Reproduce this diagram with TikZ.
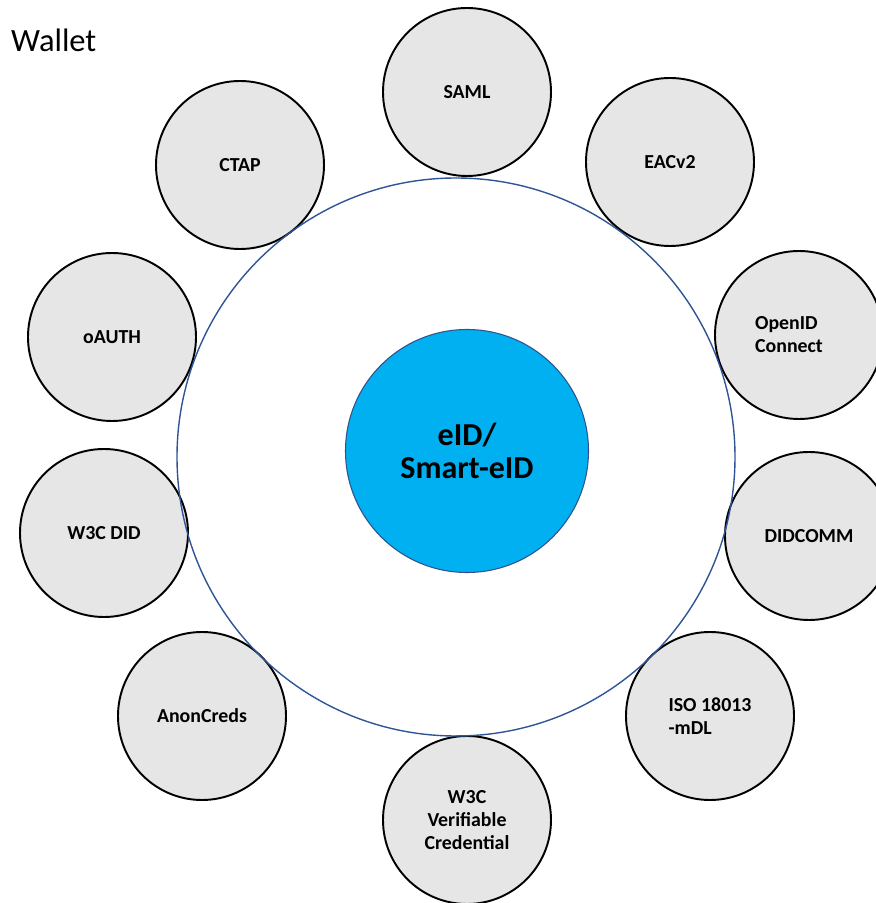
\documentclass[tikz,border=0pt]{standalone}
\usepackage{fontspec}
\setmainfont{Carlito}
\definecolor{protoGray}{RGB}{230,230,230}
\definecolor{coreBlue}{RGB}{0,176,240}
\definecolor{coreEdge}{RGB}{47,82,143}
\definecolor{ringBlue}{RGB}{47,85,151}
\tikzstyle{protoNode}=[draw,circle,minimum size=3.36cm,inner sep=0pt,fill=protoGray,line width=1.1pt,font=\fontsize{11.3}{13.1}\selectfont\bfseries,align=center]
\tikzstyle{coreNode}=[draw=coreEdge,circle,minimum size=4.86cm,inner sep=0pt,fill=coreBlue,line width=0.6pt,font=\fontsize{18.2}{19}\selectfont\bfseries,align=center]
\tikzstyle{ringNode}=[draw=ringBlue,circle,minimum size=11.16cm,inner sep=0pt,line width=0.8pt]

\begin{document}
\begin{tikzpicture}

    \useasboundingbox (0,0) rectangle (17.52,18.06);

    \node[anchor=base west,font=\fontsize{18.5}{22}\selectfont] (wallet) at (0.10, 17.02) {Wallet};

    \node[protoNode] (saml) at (9.34, 16.22) {SAML};
    \node[protoNode] (eac) at (13.40, 14.82) {EACv2};
    \node[protoNode,align=left] (oidc) at (15.98, 11.36) {OpenID\\Connect\hspace*{0.4cm}};
    \node[protoNode] (didcomm) at (16.18, 7.34) {DIDCOMM};
    \node[protoNode,align=left] (mdl) at (14.20, 3.74) {ISO 18013\\-mDL};
    \node[protoNode] (vc) at (9.34, 1.66) {W3C\\Verifiable\\Credential};
    \node[protoNode] (anoncreds) at (4.04, 3.74) {AnonCreds};
    \node[protoNode] (did) at (2.08, 7.40) {W3C DID};
    \node[protoNode] (oauth) at (2.24, 11.32) {oAUTH};
    \node[protoNode] (ctap) at (4.80, 14.76) {CTAP};

    \node[ringNode] (ring) at (9.12, 8.92) {};
    \node[coreNode] (eid) at (9.34, 9.04) {eID/\\Smart-eID};

\end{tikzpicture}
\end{document}
